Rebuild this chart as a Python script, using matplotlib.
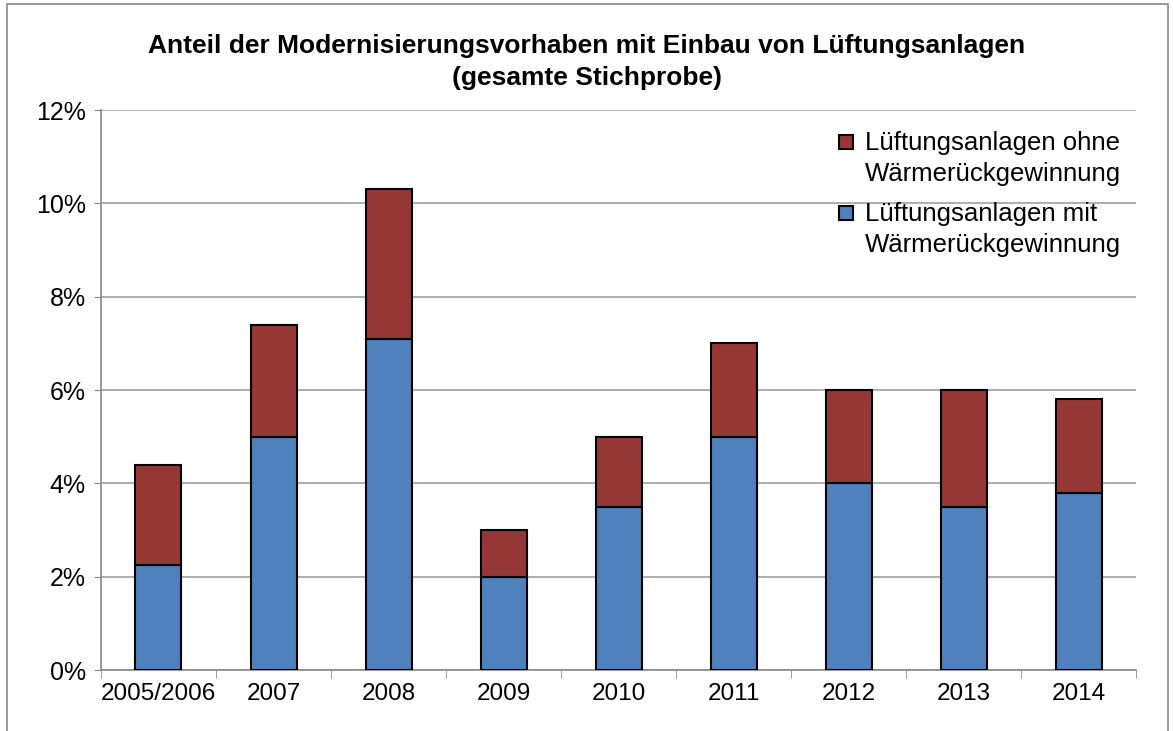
import matplotlib.pyplot as plt
import numpy as np
from matplotlib.patches import Rectangle
from matplotlib.legend_handler import HandlerPatch

plt.rcParams['font.family'] = ['Liberation Sans', 'DejaVu Sans']

years = ['2005/2006', '2007', '2008', '2009', '2010', '2011', '2012', '2013', '2014']
mit_wrg = [2.25, 5.0, 7.1, 2.0, 3.5, 5.0, 4.0, 3.5, 3.8]
ohne_wrg = [2.15, 2.4, 3.2, 1.0, 1.5, 2.0, 2.0, 2.5, 2.0]

blue = '#4f81bd'
red = '#953735'

fig = plt.figure(figsize=(11.73, 7.31), dpi=100)
ax = fig.add_axes([0.0861, 0.0834, 0.8824, 0.7661])

x = np.arange(len(years))
b1 = ax.bar(x, mit_wrg, width=0.4, color=blue, edgecolor='black', linewidth=1.5, zorder=3)
b2 = ax.bar(x, ohne_wrg, bottom=mit_wrg, width=0.4, color=red, edgecolor='black',
            linewidth=1.5, zorder=3)

ax.set_xlim(-0.5, len(years) - 0.5)
ax.set_ylim(0, 12)
ax.set_yticks(range(0, 13, 2))
ax.set_yticklabels([f'{v}%' for v in range(0, 13, 2)], fontsize=18)
ax.set_xticks(x)
ax.set_xticklabels(years, fontsize=17.5)
ax.tick_params(axis='x', length=0, pad=9)
ax.tick_params(axis='y', length=5, color='#888888', pad=6)
ax.set_xticks(np.arange(-0.5, len(years)), minor=True)
ax.tick_params(axis='x', which='minor', length=6, color='#888888')

ax.grid(axis='y', color='#a0a0a0', linewidth=1.2, zorder=0)
for s in ['top', 'right']:
    ax.spines[s].set_visible(False)
ax.spines['left'].set_color('#888888')
ax.spines['bottom'].set_color('#888888')
ax.spines['left'].set_linewidth(1.2)
ax.spines['bottom'].set_linewidth(1.2)

fig.text(0.5, 0.915, 'Anteil der Modernisierungsvorhaben mit Einbau von Lüftungsanlagen\n(gesamte Stichprobe)',
         ha='center', va='center', fontsize=19, fontweight='bold', linespacing=1.4)


# Legendensymbol oben an der ersten Textzeile ausrichten
def top_square(legend, orig_handle, xdescent, ydescent, width, height, fontsize):
    s = width
    return Rectangle((-xdescent, -ydescent + height - s + 4), s, s)


leg = ax.legend(handles=[b2[0], b1[0]],
                labels=['Lüftungsanlagen ohne\nWärmerückgewinnung',
                        'Lüftungsanlagen mit\nWärmerückgewinnung'],
                loc='upper right', bbox_to_anchor=(1.0, 0.99),
                fontsize=18.5, frameon=False, handlelength=0.55, handleheight=1.9,
                handletextpad=0.45, labelspacing=0.6, borderaxespad=0.2,
                handler_map={Rectangle: HandlerPatch(patch_func=top_square)})
leg.set_zorder(5)
for t in leg.get_texts():
    t.set_linespacing(1.38)

fig.patches.append(Rectangle((0.006, -0.01), 0.99, 1.005, transform=fig.transFigure,
                             fill=False, edgecolor='#888888', linewidth=1.2))

fig.savefig('out.png', dpi=100)
